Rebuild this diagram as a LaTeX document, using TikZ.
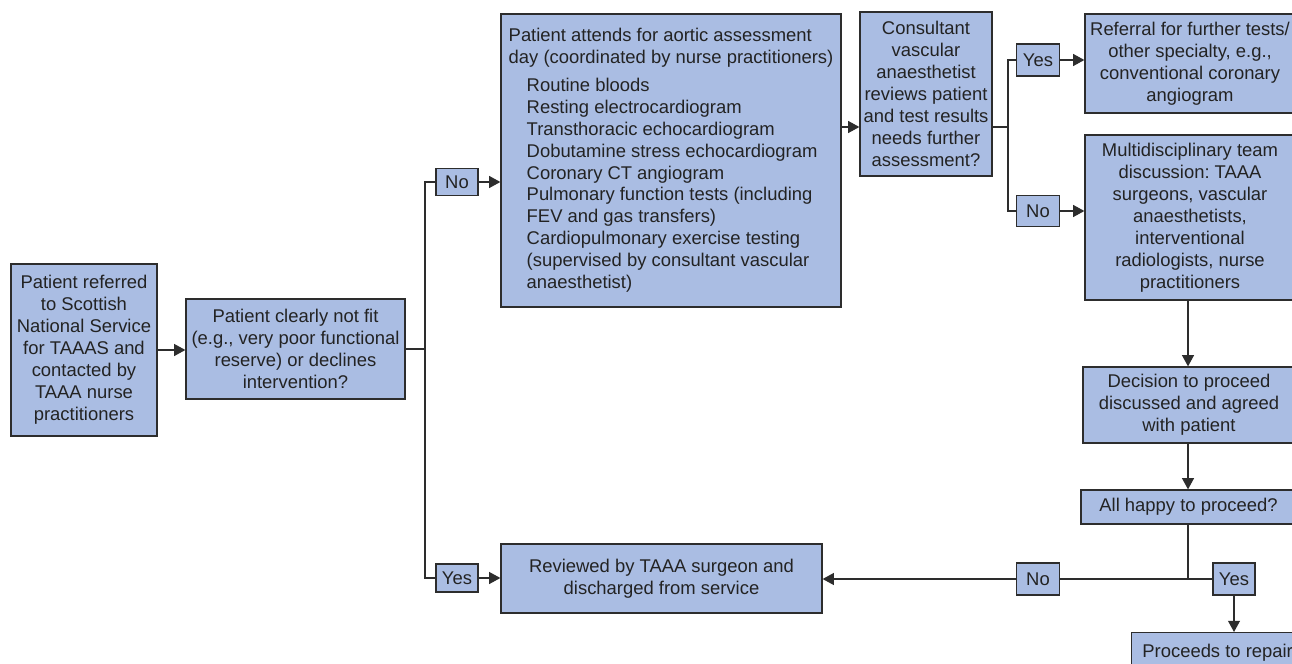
\documentclass[tikz,border=0pt]{standalone}
\usepackage{fontspec}
\setmainfont{Liberation Sans}
\usetikzlibrary{arrows.meta}

\definecolor{boxfill}{RGB}{170,189,227}
\definecolor{boxline}{RGB}{45,45,45}
\definecolor{boxtext}{RGB}{35,35,35}

\frenchspacing

\begin{document}
\begin{tikzpicture}[x=0.025cm, y=-0.025cm,
    every node/.style={font=\fontsize{13.1}{15.6}\selectfont, text=boxtext},
    box/.style={draw=boxline, fill=boxfill, line width=0.9pt, align=center, inner sep=1pt},
    wh/.style 2 args={minimum width=#1*0.025cm, minimum height=#2*0.025cm},
    link/.style={draw=boxline, line width=0.9pt},
    arr/.style={link, -{Triangle[length=8pt, width=8.5pt]}}]

    % === Page (pixel grid of the figure) ===
    \useasboundingbox (0,0) rectangle (1292,663);
    \fill[white] (0,0) rectangle (1292,663);
    \clip (0,0) rectangle (1292,663);

    \def\tst{\hspace*{12.8pt}} % indent of the test list

    % === Main boxes ===
    \node[box, wh={146}{172}] (refer) at (84,350)
    {Patient referred\\to Scottish\\National Service\\for TAAAS and\\contacted by\\TAAA nurse\\practitioners};
    \node[box, wh={219}{100}] (notfit) at (295.5,349)
    {Patient clearly not fit\\(e.g., very poor functional\\reserve) or declines\\intervention?};
    \node[box, wh={340}{293}, align=left, text depth=3pt] (attend) at (671,160.5)
    {Patient attends for aortic assessment\\
        day (coordinated by nurse practitioners)\\[4.3pt]
        \tst Routine bloods\\
        \tst Resting electrocardiogram\\
        \tst Transthoracic echocardiogram\\
        \tst Dobutamine stress echocardiogram\\
        \tst Coronary CT angiogram\\
        \tst Pulmonary function tests (including\\
        \tst FEV and gas transfers)\\
        \tst Cardiopulmonary exercise testing\\
        \tst (supervised by consultant vascular\\
        \tst anaesthetist)};
    \node[box, wh={132}{164}] (consult) at (926,94)
    {Consultant\\vascular\\anaesthetist\\reviews patient\\and test results\\needs further\\assessment?};
    \node[box, wh={210}{99}] (referral) at (1190,63.5)
    {Referral for further tests/\\other specialty, e.g.,\\conventional coronary\\angiogram};
    \node[box, wh={210}{165}] (mdt) at (1190,217.5)
    {Multidisciplinary team\\discussion: TAAA\\surgeons, vascular\\anaesthetists,\\interventional\\radiologists, nurse\\practitioners};
    \node[box, wh={212}{76}] (decide) at (1189,405)
    {Decision to proceed\\discussed and agreed\\with patient};
    \node[box, wh={215}{34}] (happy) at (1188.5,507) {All happy to proceed?};
    \node[box, wh={321}{69}] (review) at (661.5,578.5)
    {Reviewed by TAAA surgeon and\\discharged from service};
    \node[box, wh={172}{40}, anchor=north west] (repair) at (1131,632) {Proceeds to repair};

    % === Yes / No labels ===
    \node[box, wh={42}{27}] (no1) at (457,182) {No};
    \node[box, wh={42}{28}] (yes1) at (457,578) {Yes};
    \node[box, wh={43}{32}] (yes2) at (1038,60) {Yes};
    \node[box, wh={43}{31}] (no2) at (1038,211) {No};
    \node[box, wh={43}{32}] (no3) at (1038,579) {No};
    \node[box, wh={42}{32}] (yes3) at (1234,579) {Yes};

    % === Branch points ===
    \coordinate (split1) at (425,349);
    \coordinate (split2) at (1008,127);
    \coordinate (split3) at (1188,579);

    % === Connectors ===
    \draw[arr] (refer.east) -- (refer.east -| notfit.west);
    \draw[link] (notfit.east) -- (split1);
    \draw[link] (no1.west) -| (split1) |- (yes1.west);
    \draw[arr] (no1.east) -- (no1.east -| attend.west);
    \draw[arr] (yes1.east) -- (yes1.east -| review.west);

    \draw[arr] (attend.east |- split2) -- (consult.west |- split2);
    \draw[link] (consult.east |- split2) -- (split2);
    \draw[link] (yes2.west) -| (split2) |- (no2.west);
    \draw[arr] (yes2.east) -- (yes2.east -| referral.west);
    \draw[arr] (no2.east) -- (no2.east -| mdt.west);

    \draw[arr] (split3 |- mdt.south) -- (split3 |- decide.north);
    \draw[arr] (split3 |- decide.south) -- (split3 |- happy.north);
    \draw[link] (split3 |- happy.south) -- (split3);
    \draw[link] (yes3.west) -- (no3.east);
    \draw[arr] (no3.west) -- (no3.west -| review.east);
    \draw[arr] (yes3.south) -- (yes3.south |- repair.north);

\end{tikzpicture}
\end{document}
